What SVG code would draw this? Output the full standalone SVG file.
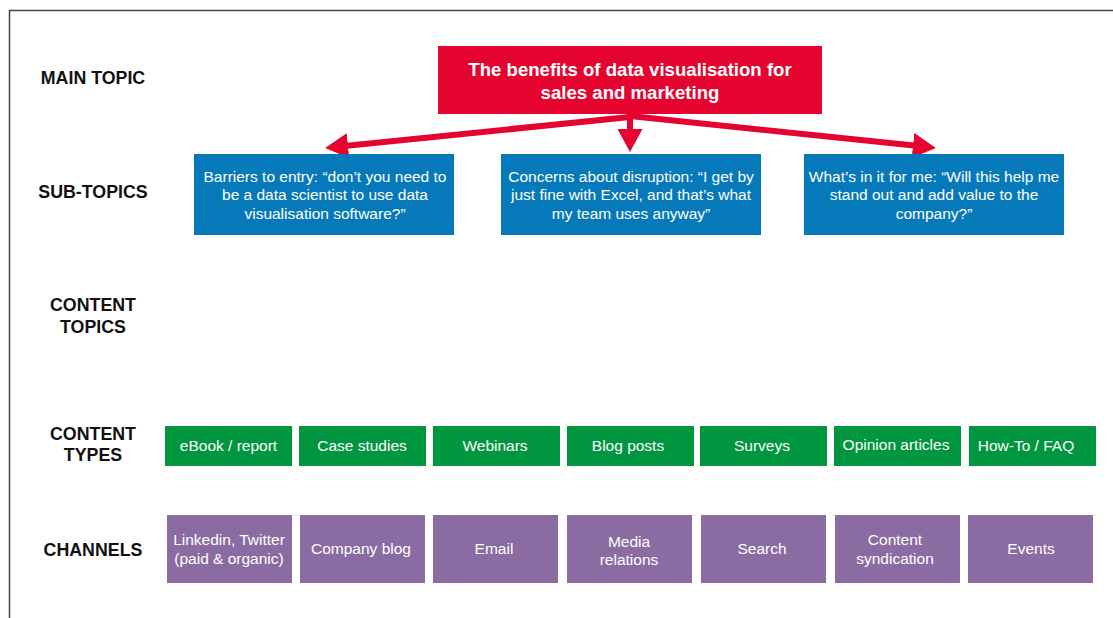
<svg xmlns="http://www.w3.org/2000/svg" width="1113" height="618" viewBox="0 0 1113 618">
  <style>
    .row { font-family: "Liberation Sans", Arial, sans-serif; font-weight: bold; font-size: 17.8px; fill: #111; text-anchor: middle; }
    .main { fill: #E4042F; }
    .main-t { font-family: "Liberation Sans", Arial, sans-serif; font-weight: bold; font-size: 18.6px; fill: #fff; text-anchor: middle; }
    .sub { fill: #0679BB; }
    .type { fill: #009640; }
    .chan { fill: #8A6CA3; }
    .lbl { font-family: "Liberation Sans", Arial, sans-serif; font-size: 15.5px; fill: #fff; text-anchor: middle; }
    .conn { stroke: #E4042F; stroke-width: 6; fill: none; }
  </style>
  <defs>
    <marker id="head" viewBox="0 0 23 25" refX="1" refY="12.5" markerWidth="23" markerHeight="25" markerUnits="userSpaceOnUse" orient="auto">
      <path d="M0,0 L23,12.5 L0,25 Z" fill="#E4042F"/>
    </marker>
  </defs>

  <!-- frame -->
  <path d="M9.5,618 L9.5,10.5 L1113,10.5" fill="none" stroke="#444" stroke-width="1.5"/>

  <!-- row labels -->
  <g id="row-labels">
    <text class="row" x="93" y="84">MAIN TOPIC</text>
    <text class="row" x="93" y="198">SUB-TOPICS</text>
    <text class="row" x="93" y="311">CONTENT</text>
    <text class="row" x="93" y="333">TOPICS</text>
    <text class="row" x="93" y="440">CONTENT</text>
    <text class="row" x="93" y="461">TYPES</text>
    <text class="row" x="93" y="556">CHANNELS</text>
  </g>

  <!-- connectors -->
  <g id="connectors">
    <line class="conn" x1="630" y1="117" x2="347" y2="145.7" marker-end="url(#head)"/>
    <line class="conn" x1="630" y1="113" x2="630" y2="130" marker-end="url(#head)"/>
    <line class="conn" x1="630" y1="116" x2="914" y2="145.6" marker-end="url(#head)"/>
  </g>

  <!-- main topic -->
  <g id="main-topic">
    <rect class="main" x="438" y="46" width="384" height="68"/>
    <text class="main-t" x="630" y="76">The benefits of data visualisation for</text>
    <text class="main-t" x="630" y="99">sales and marketing</text>
  </g>

  <!-- sub-topics -->
  <g id="sub-barriers">
    <rect class="sub" x="194" y="154" width="260" height="81"/>
    <text class="lbl" x="325" y="182">Barriers to entry: “don’t you need to</text>
    <text class="lbl" x="325" y="200">be a data scientist to use data</text>
    <text class="lbl" x="325" y="219">visualisation software?”</text>
  </g>
  <g id="sub-disruption">
    <rect class="sub" x="501" y="154" width="260" height="81"/>
    <text class="lbl" x="631" y="182">Concerns about disruption: “I get by</text>
    <text class="lbl" x="631" y="200">just fine with Excel, and that’s what</text>
    <text class="lbl" x="631" y="219">my team uses anyway”</text>
  </g>
  <g id="sub-value">
    <rect class="sub" x="804" y="154" width="260" height="81"/>
    <text class="lbl" x="934" y="182">What’s in it for me: “Will this help me</text>
    <text class="lbl" x="934" y="200">stand out and add value to the</text>
    <text class="lbl" x="934" y="219">company?”</text>
  </g>

  <!-- content types -->
  <g id="type-ebook">
    <rect class="type" x="165" y="426" width="127" height="40"/>
    <text class="lbl" x="228.5" y="451">eBook / report</text>
  </g>
  <g id="type-case">
    <rect class="type" x="299" y="426" width="127" height="40"/>
    <text class="lbl" x="362" y="451">Case studies</text>
  </g>
  <g id="type-webinars">
    <rect class="type" x="433" y="426" width="127" height="40"/>
    <text class="lbl" x="495" y="451">Webinars</text>
  </g>
  <g id="type-blog">
    <rect class="type" x="567" y="426" width="127" height="40"/>
    <text class="lbl" x="628" y="451">Blog posts</text>
  </g>
  <g id="type-surveys">
    <rect class="type" x="700" y="426" width="127" height="40"/>
    <text class="lbl" x="762" y="451">Surveys</text>
  </g>
  <g id="type-opinion">
    <rect class="type" x="834" y="426" width="127" height="40"/>
    <text class="lbl" x="896" y="450">Opinion articles</text>
  </g>
  <g id="type-howto">
    <rect class="type" x="969" y="426" width="127" height="40"/>
    <text class="lbl" x="1026" y="451">How-To / FAQ</text>
  </g>

  <!-- channels -->
  <g id="chan-social">
    <rect class="chan" x="167" y="515" width="125" height="68"/>
    <text class="lbl" x="229" y="545">Linkedin, Twitter</text>
    <text class="lbl" x="229" y="564">(paid &amp; organic)</text>
  </g>
  <g id="chan-blog">
    <rect class="chan" x="300" y="515" width="125" height="68"/>
    <text class="lbl" x="361" y="554">Company blog</text>
  </g>
  <g id="chan-email">
    <rect class="chan" x="433" y="515" width="125" height="68"/>
    <text class="lbl" x="494" y="554">Email</text>
  </g>
  <g id="chan-media">
    <rect class="chan" x="567" y="515" width="125" height="68"/>
    <text class="lbl" x="629" y="547">Media</text>
    <text class="lbl" x="629" y="565">relations</text>
  </g>
  <g id="chan-search">
    <rect class="chan" x="701" y="515" width="125" height="68"/>
    <text class="lbl" x="762" y="554">Search</text>
  </g>
  <g id="chan-syndication">
    <rect class="chan" x="835" y="515" width="125" height="68"/>
    <text class="lbl" x="895" y="545">Content</text>
    <text class="lbl" x="895" y="564">syndication</text>
  </g>
  <g id="chan-events">
    <rect class="chan" x="968" y="515" width="125" height="68"/>
    <text class="lbl" x="1031" y="554">Events</text>
  </g>
</svg>
